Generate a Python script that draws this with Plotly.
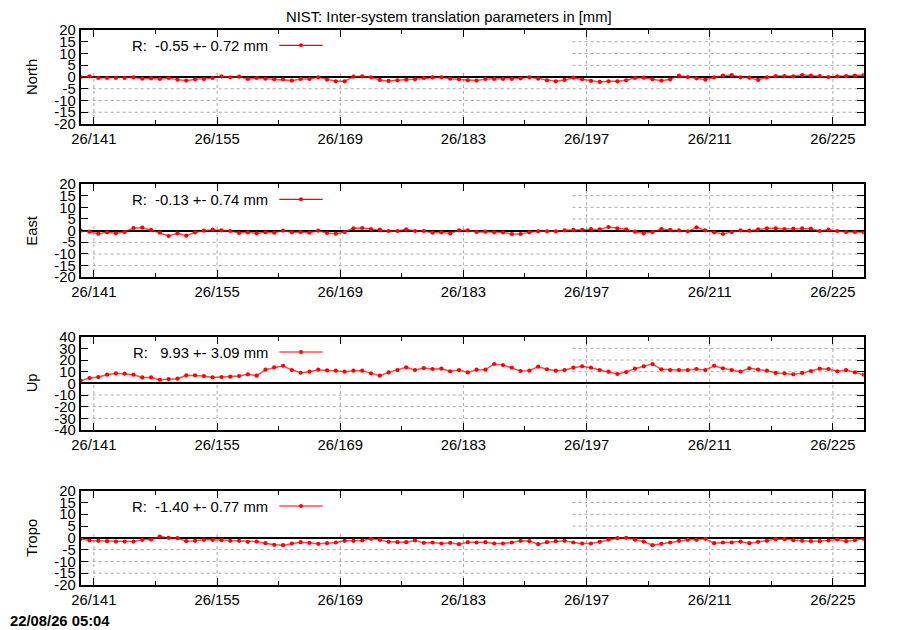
import plotly.graph_objects as go

# ---------------- data ----------------
DAY_OF_YEAR = [139, 140, 141, 142, 143, 144, 145, 146, 147, 148,
               149, 150, 151, 152, 153, 154, 155, 156, 157, 158,
               159, 160, 161, 162, 163, 164, 165, 166, 167, 168,
               169, 170, 171, 172, 173, 174, 175, 176, 177, 178,
               179, 180, 181, 182, 183, 184, 185, 186, 187, 188,
               189, 190, 191, 192, 193, 194, 195, 196, 197, 198,
               199, 200, 201, 202, 203, 204, 205, 206, 207, 208,
               209, 210, 211, 212, 213, 214, 215, 216, 217, 218,
               219, 220, 221, 222, 223, 224, 225, 226, 227, 228]

NORTH = [0.0, 0.28, -0.42, -0.42, -0.42, -0.42, -0.14, -0.70, -0.56, -0.84,
         -0.42, -1.12, -1.54, -0.98, -0.84, -0.42, 0.28, -0.14, 0.14, -0.84,
         -0.42, -0.70, -0.98, -0.98, -1.54, -0.84, -0.84, -0.14, -1.12, -1.82,
         -1.82, 0.14, 0.28, -0.14, -1.26, -1.68, -1.40, -1.12, -0.98, -0.42,
         -0.14, -0.14, -0.70, -0.98, -1.40, -1.54, -0.84, -0.84, -0.84, -0.84,
         -0.56, -0.14, -0.70, -1.40, -1.82, -1.26, -0.28, -0.98, -1.68, -2.10,
         -1.82, -1.82, -1.40, -0.42, -0.28, -0.98, -1.54, -0.98, 0.56, 0.0,
         -0.56, -1.12, -0.14, 0.56, 0.84, -0.14, -0.28, -1.26, -0.14, 0.42,
         0.42, 0.28, 0.84, 0.56, 0.42, 0.0, 0.28, 0.42, 0.56, 0.84]

EAST = [0.0, -0.43, -1.29, -0.71, -1.14, -0.57, 1.14, 1.29, 0.29, -0.86,
        -2.29, -1.14, -2.14, -0.71, 0.0, 0.43, 0.14, -0.14, -1.0, -0.71,
        -1.14, -0.71, -0.86, 0.0, -0.71, -0.57, -0.86, 0.0, -1.0, -1.29,
        -0.57, 1.0, 1.14, 0.71, 0.43, -0.14, -0.14, 0.57, -0.14, -0.14,
        -0.86, -0.71, -1.2, 0.14, 0.14, -0.57, -0.43, -0.71, -0.71, -1.43,
        -1.43, -0.71, -0.29, -0.29, -0.29, 0.14, 0.29, 0.29, 0.71, 0.57,
        1.57, 1.0, 0.57, -0.43, -1.14, -0.57, 0.71, 0.29, 0.14, -0.29,
        1.43, 0.14, -0.71, -1.43, -0.57, 0.14, 0.0, 0.57, 1.0, 1.0,
        0.71, 0.86, 1.0, 0.86, -0.14, 0.43, -0.14, -0.57, -0.57, -0.71]

UP = [2.3, 4.6, 5.4, 7.4, 8.6, 8.3, 7.4, 5.1, 5.1, 3.1,
      3.7, 4.0, 6.9, 6.9, 6.3, 5.1, 5.4, 5.7, 6.3, 7.7,
      6.6, 11.7, 13.7, 15.1, 11.4, 9.1, 10.0, 11.7, 11.1, 10.9,
      10.0, 10.9, 10.9, 8.6, 6.6, 9.4, 11.4, 13.7, 11.4, 13.1,
      12.3, 12.6, 10.3, 11.4, 9.4, 11.7, 11.7, 16.6, 15.7, 13.4,
      10.6, 10.9, 14.3, 12.0, 10.9, 11.4, 13.4, 14.6, 13.4, 11.4,
      10.0, 8.0, 9.7, 12.6, 14.6, 16.6, 12.0, 11.4, 11.4, 11.4,
      12.3, 11.4, 15.1, 12.9, 11.4, 10.0, 12.9, 11.7, 10.9, 8.9,
      8.6, 7.7, 8.9, 10.6, 12.6, 12.3, 10.3, 11.4, 9.4, 7.4]

TROPO = [-0.42, -1.13, -1.27, -1.41, -1.56, -1.56, -1.56, -0.85, -0.71, 0.57,
         0.0, -0.14, -1.41, -1.27, -0.85, -0.85, -0.99, -1.27, -1.27, -1.70,
         -1.56, -2.26, -2.97, -3.11, -2.40, -1.84, -2.12, -2.55, -2.26, -1.98,
         -1.27, -1.27, -1.13, -0.42, -0.85, -1.70, -1.84, -1.84, -1.13, -2.12,
         -1.98, -2.40, -2.10, -2.69, -1.84, -1.98, -1.84, -2.40, -2.40, -1.98,
         -1.27, -1.41, -2.69, -1.84, -1.41, -1.27, -1.98, -2.40, -2.40, -1.70,
         -0.71, -0.14, 0.0, -0.85, -1.56, -3.11, -2.55, -1.98, -1.27, -0.85,
         -0.85, -0.42, -2.26, -1.98, -1.98, -1.56, -2.26, -1.70, -1.27, -0.57,
         -0.57, -0.99, -1.27, -1.41, -1.41, -1.13, -0.71, -1.41, -0.99, -0.42]

PANEL_NAMES = ["North", "East", "Up", "Tropo"]
PANEL_VALUES = [NORTH, EAST, UP, TROPO]
PANEL_STATS = ["R:  -0.55 +- 0.72 mm", "R:  -0.13 +- 0.74 mm",
               "R:   9.93 +- 3.09 mm", "R:  -1.40 +- 0.77 mm"]
PANEL_YTICKS = [[-20, -15, -10, -5, 0, 5, 10, 15, 20],
                [-20, -15, -10, -5, 0, 5, 10, 15, 20],
                [-40, -30, -20, -10, 0, 10, 20, 30, 40],
                [-20, -15, -10, -5, 0, 5, 10, 15, 20]]

X_TICK_VALS = [141, 155, 169, 183, 197, 211, 225]
X_TICK_TEXT = ["26/141", "26/155", "26/169", "26/183", "26/197", "26/211", "26/225"]
X_MINOR_VALS = [148, 162, 176, 190, 204, 218]
X_RANGE = [139.5, 228.5]

TITLE = "NIST: Inter-system translation parameters in [mm]"
TIMESTAMP = "22/08/26 05:04"

# ---------------- style / layout ----------------
W, H = 900, 630
PAGE_OFFSET = 8          # the page body margin shifts the figure by 8 px
FONT = "Liberation Sans, Arial, sans-serif"
FS = 14.8
PANEL_PX = [(30, 124), (184, 277.3), (336.7, 430), (490.7, 585)]
X_PX = (80.7, 863.7)
KEY_X_END = 195.4                    # right end of the opaque key area (axis units)
KEY_Y_BOTTOM = [2.8, 2.8, 1.5, 2.8]  # bottom of the opaque key area (axis units)
GRID = dict(color="#a8a8a8", width=1, dash="dot")


def px_x(p):
    return (p - PAGE_OFFSET) / W


def px_y(p):
    return 1 - (p - PAGE_OFFSET) / H


fig = go.Figure()
shapes = []
annotations = []
layout = {}

x_noon = [d + 0.5 for d in DAY_OF_YEAR]

for i, (name, vals, stats, yt) in enumerate(zip(PANEL_NAMES, PANEL_VALUES, PANEL_STATS, PANEL_YTICKS)):
    k = i + 1
    xa = "x" if k == 1 else f"x{k}"
    ya = "y" if k == 1 else f"y{k}"
    top, bot = PANEL_PX[i]
    ymin, ymax = yt[0], yt[-1]

    fig.add_trace(go.Scatter(
        x=x_noon, y=vals, xaxis=xa, yaxis=ya, mode="lines+markers",
        line=dict(color="rgba(255,0,0,0.7)", width=1.5),
        marker=dict(color="#ff0000", size=4.2, symbol="circle"),
        showlegend=False, hoverinfo="skip"))

    layout[f"xaxis{'' if k == 1 else k}"] = dict(
        domain=[px_x(X_PX[0]), px_x(X_PX[1])], anchor=ya, range=X_RANGE,
        tickmode="array", tickvals=X_TICK_VALS, ticktext=X_TICK_TEXT,
        ticks="inside", ticklen=7, tickwidth=1, tickcolor="black",
        showline=True, linecolor="black", linewidth=2, mirror="allticks",
        showgrid=False, zeroline=False,
        tickfont=dict(family=FONT, size=FS, color="black"),
        minor=dict(tickmode="array", tickvals=X_MINOR_VALS, ticks="inside",
                   ticklen=4, tickwidth=1, tickcolor="black", showgrid=False),
    )
    layout[f"yaxis{'' if k == 1 else k}"] = dict(
        domain=[px_y(bot), px_y(top)], anchor=xa, range=[ymin, ymax],
        tickmode="array", tickvals=yt, ticktext=[str(v) for v in yt],
        ticks="inside", ticklen=7, tickwidth=1, tickcolor="black",
        showline=True, linecolor="black", linewidth=2, mirror="allticks",
        showgrid=False, zeroline=True, zerolinecolor="black", zerolinewidth=1.5,
        tickfont=dict(family=FONT, size=FS, color="black"),
    )

    # dotted grid, interrupted by the opaque key area (top-left)
    for v in yt[1:-1]:
        if v == 0:
            continue
        x0 = KEY_X_END if v > KEY_Y_BOTTOM[i] else X_RANGE[0]
        shapes.append(dict(type="line", xref=xa, yref=ya, x0=x0, x1=X_RANGE[1],
                           y0=v, y1=v, line=GRID, layer="below"))
    for t in X_TICK_VALS:
        y1 = KEY_Y_BOTTOM[i] if t < KEY_X_END else ymax
        shapes.append(dict(type="line", xref=xa, yref=ya, x0=t, x1=t,
                           y0=ymin, y1=y1, line=GRID, layer="below"))

    # key sample
    ky = top + 15.3
    shapes.append(dict(type="line", xref="paper", yref="paper",
                       x0=px_x(279.3), x1=px_x(322.7), y0=px_y(ky), y1=px_y(ky),
                       line=dict(color="#ff0000", width=1.2)))
    shapes.append(dict(type="circle", xref="paper", yref="paper",
                       x0=px_x(299), x1=px_x(303), y0=px_y(ky + 2), y1=px_y(ky - 2),
                       fillcolor="#ff0000", line=dict(width=0)))
    annotations.append(dict(text=stats, xref="paper", yref="paper",
                            x=px_x(270), y=px_y(top + 16), xanchor="right", yanchor="middle",
                            showarrow=False, font=dict(family=FONT, size=FS, color="black")))
    annotations.append(dict(text=name, xref="paper", yref="paper",
                            x=px_x(32), y=px_y((top + bot) / 2), xanchor="center", yanchor="middle",
                            textangle=-90, showarrow=False,
                            font=dict(family=FONT, size=FS, color="black")))

annotations.append(dict(text=TITLE, xref="paper", yref="paper",
                        x=px_x(449), y=px_y(8), xanchor="center", yanchor="top",
                        borderpad=0, showarrow=False,
                        font=dict(family=FONT, size=FS, color="black")))
annotations.append(dict(text=TIMESTAMP, xref="paper", yref="paper",
                        x=px_x(8), y=px_y(621), xanchor="left", yanchor="middle",
                        showarrow=False,
                        font=dict(family=FONT, size=FS, color="black", weight="bold")))

fig.update_layout(
    width=W, height=H, margin=dict(l=0, r=0, t=0, b=0, autoexpand=False),
    paper_bgcolor="white", plot_bgcolor="rgba(0,0,0,0)",
    shapes=shapes, annotations=annotations, showlegend=False,
    **layout,
)

fig.write_html("out.html")
